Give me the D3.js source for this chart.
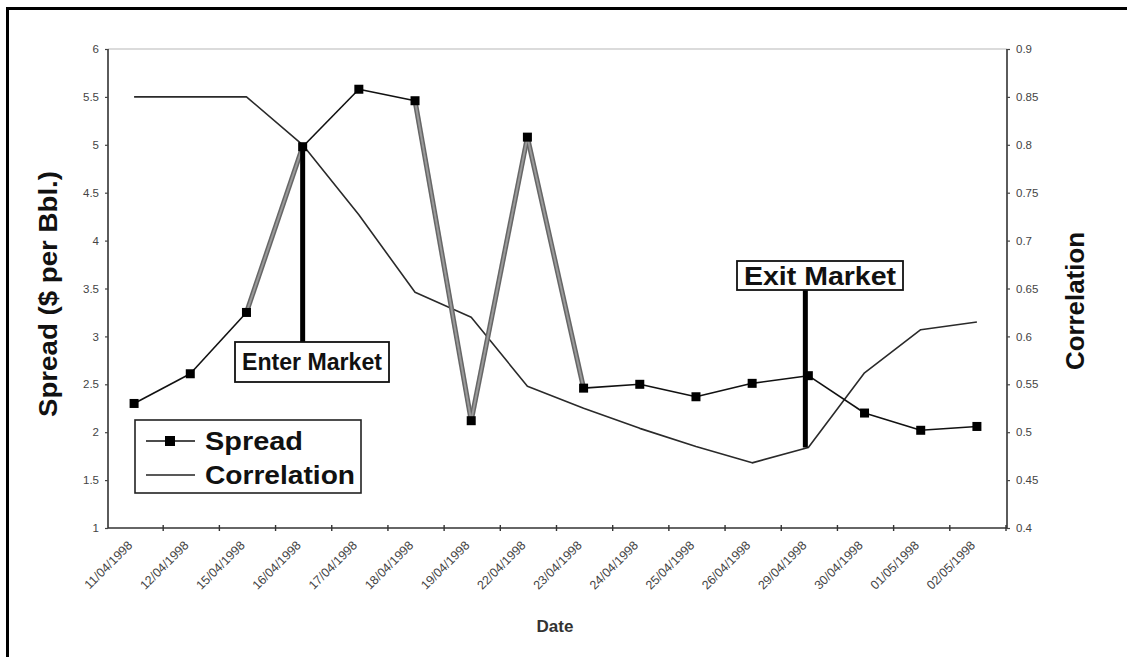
<!DOCTYPE html>
<html>
<head>
<meta charset="utf-8">
<script src="https://cdn.jsdelivr.net/npm/d3@7"></script>
<style>
  html, body { margin: 0; padding: 0; background: #fff; }
  svg { display: block; }
</style>
</head>
<body>
<svg id="chart" width="1127" height="657"></svg>
<script>
// Trading dates (category axis)
const dates = [
  "11/04/1998", "12/04/1998", "15/04/1998", "16/04/1998",
  "17/04/1998", "18/04/1998", "19/04/1998", "22/04/1998",
  "23/04/1998", "24/04/1998", "25/04/1998", "26/04/1998",
  "29/04/1998", "30/04/1998", "01/05/1998", "02/05/1998"
];
// Spread, $ per barrel (left axis)
const spread = [2.30, 2.61, 3.25, 4.98, 5.58, 5.46, 2.12, 5.08,
                2.46, 2.50, 2.37, 2.51, 2.59, 2.20, 2.02, 2.06];
// Rolling correlation (right axis)
const correlation = [0.85, 0.85, 0.85, 0.80, 0.727, 0.646, 0.620, 0.548,
                     0.525, 0.504, 0.485, 0.468, 0.484, 0.562, 0.607, 0.615];
// Spread segments (by starting index) drawn as the highlighted position
const heldSegments = [2, 5, 6, 7];
// Axis tick values
const spreadTicks = [1, 1.5, 2, 2.5, 3, 3.5, 4, 4.5, 5, 5.5, 6];
const corrTicks = [0.4, 0.45, 0.5, 0.55, 0.6, 0.65, 0.7, 0.75, 0.8, 0.85, 0.9];
// Trade markers
const enterIndex = 3, exitIndex = 12;

const svg = d3.select("#chart");
const plotL = 106, plotR = 1005, plotT = 49, plotB = 528;

const x = d3.scaleBand().domain(dates).range([plotL, plotR]).paddingInner(0).paddingOuter(0);
const cx = d => x(d) + x.bandwidth() / 2;
const yL = d3.scaleLinear().domain([1, 6]).range([plotB, plotT]);
const yR = d3.scaleLinear().domain([0.4, 0.9]).range([plotB, plotT]);

const bold = "'Liberation Sans', Arial, sans-serif";
const sans = "'Liberation Sans', Arial, sans-serif";

// outer frame
svg.append("rect").attr("x", 7.5).attr("y", 8.5).attr("width", 1140).attr("height", 700)
  .attr("fill", "none").attr("stroke", "#000").attr("stroke-width", 3);

// top border of plot area
svg.append("line").attr("x1", plotL + 2).attr("x2", plotR + 2).attr("y1", plotT).attr("y2", plotT)
  .attr("stroke", "#cfcfcf").attr("stroke-width", 1.5);

// left axis
const gL = svg.append("g").attr("transform", `translate(${plotL + 2},0)`)
  .call(d3.axisLeft(yL).tickValues(spreadTicks).tickSize(3).tickPadding(6)
    .tickFormat(d3.format("")));
// right axis
const gR = svg.append("g").attr("transform", `translate(${plotR + 2},0)`)
  .call(d3.axisRight(yR).tickValues(corrTicks).tickSize(3).tickPadding(6)
    .tickFormat(d3.format("")));
// bottom axis (ticks at category boundaries)
const gB = svg.append("g").attr("transform", `translate(0,${plotB})`)
  .call(d3.axisBottom(x).tickSize(0).tickFormat(""));

[gL, gR, gB].forEach(g => {
  g.select(".domain").attr("stroke", "#333").attr("stroke-width", 1.6);
  g.selectAll(".tick line").attr("stroke", "#444").attr("stroke-width", 1.2);
  g.selectAll(".tick text").attr("fill", "#444").style("font-family", sans).style("font-size", "11.5px");
});
gL.select(".domain").attr("d", `M0,${plotT}V${plotB}`);
gR.select(".domain").attr("d", `M0,${plotT}V${plotB}`);
gB.select(".domain").attr("d", `M${plotL + 2},0H${plotR + 2}`);

// category boundary tick marks on the date axis
const bounds = dates.map(d => x(d)).concat([plotR]).slice(1);
svg.append("g").selectAll("line").data(bounds).join("line")
  .attr("x1", d => d + 1).attr("x2", d => d + 1)
  .attr("y1", plotB - 3).attr("y2", plotB + 3)
  .attr("stroke", "#333").attr("stroke-width", 1.4);

// rotated date labels
svg.append("g").selectAll("text").data(dates).join("text")
  .attr("transform", d => `translate(${cx(d) - 4},${plotB + 15}) rotate(-45)`)
  .attr("text-anchor", "end").attr("dy", "0.35em")
  .style("font-family", sans).style("font-size", "12.5px").attr("fill", "#444")
  .text(d => d);

// axis titles
svg.append("text").attr("transform", "translate(57,294) rotate(-90)")
  .attr("text-anchor", "middle").style("font-family", bold).style("font-weight", "bold")
  .style("font-size", "25px").attr("textLength", 246).attr("lengthAdjust", "spacingAndGlyphs")
  .attr("fill", "#111").text("Spread ($ per Bbl.)");
svg.append("text").attr("transform", "translate(1084,301) rotate(-90)")
  .attr("text-anchor", "middle").style("font-family", bold).style("font-weight", "bold")
  .style("font-size", "25px").attr("textLength", 138).attr("lengthAdjust", "spacingAndGlyphs")
  .attr("fill", "#111").text("Correlation");
svg.append("text").attr("x", 555).attr("y", 632).attr("text-anchor", "middle")
  .style("font-family", sans).style("font-weight", "bold").style("font-size", "17px")
  .attr("fill", "#333").text("Date");

// correlation line
svg.append("path").datum(correlation)
  .attr("fill", "none").attr("stroke", "#2a2a2a").attr("stroke-width", 1.6)
  .attr("stroke-linejoin", "round")
  .attr("d", d3.line().x((d, i) => cx(dates[i])).y(d => yR(d)));

// spread line segments
const segs = d3.range(spread.length - 1).map(i => ({ i, held: heldSegments.includes(i) }));
const segG = svg.append("g");
segG.selectAll("line.n").data(segs.filter(s => !s.held)).join("line")
  .attr("x1", s => cx(dates[s.i])).attr("y1", s => yL(spread[s.i]))
  .attr("x2", s => cx(dates[s.i + 1])).attr("y2", s => yL(spread[s.i + 1]))
  .attr("stroke", "#111").attr("stroke-width", 1.6);
segG.selectAll("line.h").data(segs.filter(s => s.held)).join("line")
  .attr("x1", s => cx(dates[s.i])).attr("y1", s => yL(spread[s.i]))
  .attr("x2", s => cx(dates[s.i + 1])).attr("y2", s => yL(spread[s.i + 1]))
  .attr("stroke", "#666").attr("stroke-width", 5);
segG.selectAll("line.hc").data(segs.filter(s => s.held)).join("line")
  .attr("x1", s => cx(dates[s.i])).attr("y1", s => yL(spread[s.i]))
  .attr("x2", s => cx(dates[s.i + 1])).attr("y2", s => yL(spread[s.i + 1]))
  .attr("stroke", "#9a9a9a").attr("stroke-width", 2);

// enter / exit markers
const enterX = cx(dates[enterIndex]);
svg.append("line").attr("x1", enterX).attr("x2", enterX)
  .attr("y1", yL(spread[enterIndex])).attr("y2", 342)
  .attr("stroke", "#000").attr("stroke-width", 5);
const exitX = cx(dates[exitIndex]) - 3;
svg.append("line").attr("x1", exitX).attr("x2", exitX)
  .attr("y1", 289).attr("y2", yR(correlation[exitIndex]))
  .attr("stroke", "#000").attr("stroke-width", 5);

// spread markers
svg.append("g").selectAll("rect").data(spread).join("rect")
  .attr("x", (d, i) => cx(dates[i]) - 4.5).attr("y", d => yL(d) - 4.5)
  .attr("width", 9).attr("height", 9).attr("fill", "#000");

// annotation boxes
function callout(x0, y0, w, h, label, size, len) {
  svg.append("rect").attr("x", x0).attr("y", y0).attr("width", w).attr("height", h)
    .attr("fill", "#fff").attr("stroke", "#111").attr("stroke-width", 1.8);
  svg.append("text").attr("x", x0 + w / 2).attr("y", y0 + h / 2).attr("dy", "0.36em")
    .attr("text-anchor", "middle").style("font-family", bold).style("font-weight", "bold")
    .style("font-size", size + "px").attr("textLength", len).attr("lengthAdjust", "spacingAndGlyphs")
    .attr("fill", "#111").text(label);
}
callout(235, 342, 154, 40, "Enter Market", 23, 140);
callout(737, 261, 166, 29, "Exit Market", 25, 152);

// legend
const lg = svg.append("g");
lg.append("rect").attr("x", 135).attr("y", 420).attr("width", 226).attr("height", 73)
  .attr("fill", "#fff").attr("stroke", "#222").attr("stroke-width", 1.6);
lg.append("line").attr("x1", 146).attr("x2", 195).attr("y1", 441).attr("y2", 441)
  .attr("stroke", "#111").attr("stroke-width", 1.6);
lg.append("rect").attr("x", 165).attr("y", 436).attr("width", 10).attr("height", 10).attr("fill", "#000");
lg.append("line").attr("x1", 146).attr("x2", 195).attr("y1", 475).attr("y2", 475)
  .attr("stroke", "#222").attr("stroke-width", 1.6);
lg.append("text").attr("x", 205).attr("y", 441).attr("dy", "0.36em")
  .style("font-family", bold).style("font-weight", "bold").style("font-size", "25px")
  .attr("textLength", 98).attr("lengthAdjust", "spacingAndGlyphs")
  .attr("fill", "#111").text("Spread");
lg.append("text").attr("x", 205).attr("y", 475).attr("dy", "0.36em")
  .style("font-family", bold).style("font-weight", "bold").style("font-size", "25px")
  .attr("textLength", 150).attr("lengthAdjust", "spacingAndGlyphs")
  .attr("fill", "#111").text("Correlation");
</script>
</body>
</html>
